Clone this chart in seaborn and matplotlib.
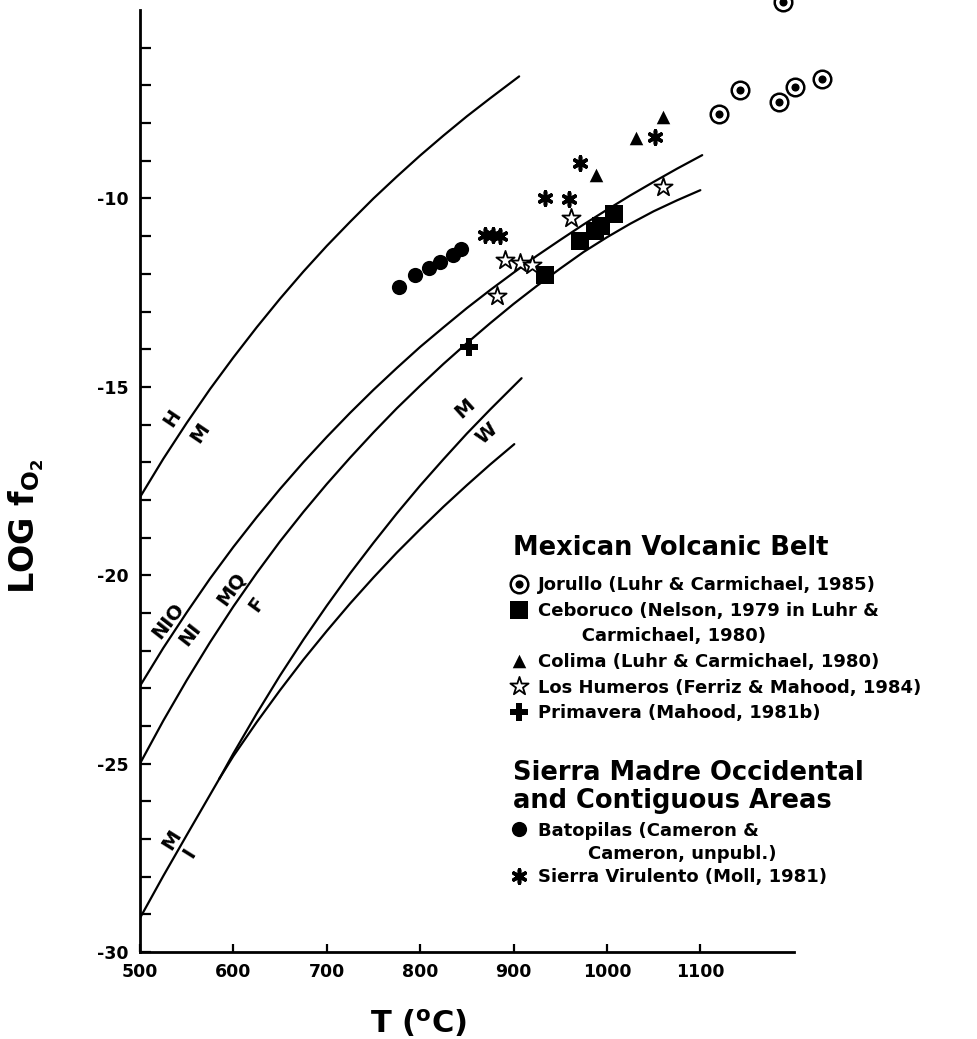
import matplotlib
matplotlib.use("Agg")
import matplotlib.pyplot as plt
import seaborn as sns
from matplotlib.lines import Line2D
from matplotlib.legend_handler import HandlerTuple
from matplotlib.ticker import FixedLocator

# ---- oxygen buffer curves: temperature (deg C) and log fO2 ----
hm_t = [500, 525, 550, 575, 600, 625, 650, 675, 700, 725, 750, 775, 800,
        825, 850, 875, 906]
hm_logfo2 = [-17.93, -16.91, -15.96, -15.06, -14.22, -13.42, -12.66, -11.94,
             -11.26, -10.62, -10.00, -9.42, -8.86, -8.33, -7.82, -7.34, -6.76]

nno_t = [500, 525, 550, 575, 600, 625, 650, 675, 700, 725, 750, 775, 800,
         825, 850, 875, 900, 925, 950, 975, 1000, 1025, 1050, 1075, 1102]
nno_logfo2 = [-22.94, -21.93, -20.99, -20.09, -19.25, -18.46, -17.71, -17.00,
              -16.33, -15.69, -15.08, -14.50, -13.94, -13.42, -12.91, -12.43,
              -11.97, -11.52, -11.10, -10.69, -10.30, -9.92, -9.56, -9.21,
              -8.85]

fmq_t = [500, 525, 550, 575, 600, 625, 650, 675, 700, 725, 750, 775, 800,
         825, 850, 875, 900, 925, 950, 975, 1000, 1025, 1050, 1075, 1100]
fmq_logfo2 = [-25.00, -23.86, -22.79, -21.78, -20.83, -19.94, -19.10, -18.32,
              -17.58, -16.88, -16.21, -15.57, -14.97, -14.39, -13.84, -13.31,
              -12.80, -12.32, -11.86, -11.42, -11.03, -10.67, -10.34, -10.05,
              -9.78]

mi_t = [500, 525, 550, 585]
mi_logfo2 = [-29.10, -27.98, -26.90, -25.40]

mw_t = [585, 600, 625, 650, 675, 700, 725, 750, 775, 800, 825, 850, 875, 908.6]
mw_logfo2 = [-25.40, -24.73, -23.67, -22.66, -21.71, -20.81, -19.95, -19.14,
             -18.36, -17.62, -16.92, -16.24, -15.60, -14.77]

wi_t = [585, 600, 625, 650, 675, 700, 725, 750, 775, 800, 825, 850, 875, 900.8]
wi_logfo2 = [-25.40, -24.80, -23.90, -23.05, -22.24, -21.48, -20.75, -20.06,
             -19.40, -18.78, -18.18, -17.61, -17.06, -16.52]

# ---- Mexican Volcanic Belt ----
jorullo_t = [1120, 1142, 1184, 1189, 1201, 1230]
jorullo_logfo2 = [-7.76, -7.12, -7.45, -4.79, -7.03, -6.84]

ceboruco_t = [934, 971, 987, 994, 1008]
ceboruco_logfo2 = [-12.02, -11.14, -10.87, -10.73, -10.40]

colima_t = [988, 1031, 1060]
colima_logfo2 = [-9.38, -8.39, -7.83]

humeros_t = [882, 891, 907, 920, 961, 1060]
humeros_logfo2 = [-12.60, -11.62, -11.70, -11.77, -10.51, -9.69]

primavera_t = [852]
primavera_logfo2 = [-13.94]

# ---- Sierra Madre Occidental and contiguous areas ----
batopilas_t = [777, 795, 810, 821, 835, 844]
batopilas_logfo2 = [-12.35, -12.04, -11.84, -11.68, -11.51, -11.35]

virulento_t = [869, 878, 885, 934, 959, 971, 1051]
virulento_logfo2 = [-10.96, -10.98, -11.0, -9.98, -10.02, -9.07, -8.36]

x_ticks = [500, 600, 700, 800, 900, 1000, 1100]
y_ticks = [-30, -25, -20, -15, -10]

# ---- style ----
sns.set_theme(style="ticks")
plt.rcParams["font.family"] = ["DejaVu Sans"]
plt.rcParams["font.weight"] = "bold"
plt.rcParams["axes.unicode_minus"] = False
for key in ("text.color", "axes.labelcolor", "xtick.color", "ytick.color",
            "axes.edgecolor"):
    plt.rcParams[key] = "black"

fig = plt.figure(figsize=(9.78, 10.39), dpi=100)
fig.patch.set_facecolor("white")
ax = fig.add_axes([0.1431, 0.0837, 0.6685, 0.9066])
ax.set_facecolor("white")

curve_kw = dict(color="black", linewidth=1.6, sort=False, estimator=None, ax=ax)
for t, f in [(hm_t, hm_logfo2), (nno_t, nno_logfo2), (fmq_t, fmq_logfo2),
             (mi_t, mi_logfo2), (mw_t, mw_logfo2), (wi_t, wi_logfo2)]:
    sns.lineplot(x=t, y=f, **curve_kw)

# buffer labels written along the curves
curve_labels = [
    ("H", 535, -15.83, 56), ("M", 564, -16.22, 56),
    ("NIO", 530, -21.22, 52), ("NI", 553.5, -21.57, 52),
    ("MQ", 598, -20.37, 54), ("F", 625, -20.77, 54),
    ("M", 848, -15.57, 42), ("W", 871.5, -16.25, 42),
    ("M", 534, -27.02, 58), ("I", 553.5, -27.38, 58),
]
for txt, x, y, rot in curve_labels:
    ax.text(x, y, txt, rotation=rot, rotation_mode="anchor", ha="center",
            va="center", fontsize=14, fontweight="bold", color="black")


def scatter(t, f, **kw):
    sns.scatterplot(x=t, y=f, ax=ax, clip_on=False, zorder=5, **kw)
    return ax.collections[-1]


h_jor_outer = scatter(jorullo_t, jorullo_logfo2, marker="o", s=160,
                      color="white", edgecolor="black", linewidth=1.8)
h_jor_inner = scatter(jorullo_t, jorullo_logfo2, marker="o", s=34,
                      color="black", edgecolor="black", linewidth=0)
h_ceb = scatter(ceboruco_t, ceboruco_logfo2, marker="s", s=150,
                color="black", edgecolor="black", linewidth=0)
h_col = scatter(colima_t, colima_logfo2, marker="^", s=95,
                color="black", edgecolor="black", linewidth=0)
h_hum = scatter(humeros_t, humeros_logfo2, marker="*", s=190,
                color="white", edgecolor="black", linewidth=1.3)
h_pri = scatter(primavera_t, primavera_logfo2, marker="P", s=170,
                color="black", edgecolor="black", linewidth=0)
h_bat = scatter(batopilas_t, batopilas_logfo2, marker="o", s=120,
                color="black", edgecolor="black", linewidth=0)
h_vir = scatter(virulento_t, virulento_logfo2, marker=(6, 2, 0), s=90,
                color="black", linewidth=2.6)

# ---- axes ----
ax.set_xlim(500, 1200)
ax.set_ylim(-30, -5)
sns.despine(ax=ax)
for side in ("left", "bottom"):
    ax.spines[side].set_linewidth(2)
    ax.spines[side].set_color("black")

ax.set_xticks(x_ticks)
ax.set_xticklabels([str(v) for v in x_ticks])
ax.set_yticks(y_ticks)
ax.set_yticklabels([str(v) for v in y_ticks])
ax.yaxis.set_minor_locator(FixedLocator([v for v in range(-29, -5) if v % 5]))
ax.tick_params(axis="y", which="both", direction="in", length=8, width=1.6,
               color="black", pad=8, labelsize=12.5, labelcolor="black")
ax.tick_params(axis="x", which="both", direction="in", length=6, width=1.6,
               color="black", pad=8, labelsize=12.5, labelcolor="black")
for lab in ax.get_xticklabels() + ax.get_yticklabels():
    lab.set_fontweight("bold")

ax.set_xlabel("")
ax.set_ylabel("")
fig.text(418 / 978, 1 - 1023 / 1039, r"T ($^{\mathbf{o}}$C)", ha="center",
         va="center", fontsize=22, fontweight="bold")
fig.text(26 / 978, 1 - 526 / 1039, r"LOG $\mathbf{f_{O_2}}$", ha="center",
         va="center", rotation=90, fontsize=24, fontweight="bold")

# ---- legends ----
blank = Line2D([], [], linestyle="none")
leg_kw = dict(loc="upper left", frameon=False, borderpad=0, borderaxespad=0,
              handlelength=0.66, handletextpad=0.72,
              alignment="left", scatterpoints=1, scatteryoffsets=[0.5],
              prop={"weight": "bold", "size": 13},
              title_fontproperties={"weight": "bold", "size": 18.5},
              bbox_transform=fig.transFigure,
              handler_map={tuple: HandlerTuple(ndivide=1)})

leg1 = ax.legend(
    handles=[(h_jor_outer, h_jor_inner), h_ceb, blank, h_col, h_hum, h_pri],
    labels=["Jorullo (Luhr & Carmichael, 1985)",
            "Ceboruco (Nelson, 1979 in Luhr &",
            "       Carmichael, 1980)",
            "Colima (Luhr & Carmichael, 1980)",
            "Los Humeros (Ferriz & Mahood, 1984)",
            "Primavera (Mahood, 1981b)"],
    title="Mexican Volcanic Belt", labelspacing=0.42,
    bbox_to_anchor=(513 / 978, 1 - 535 / 1039), **leg_kw)
leg1._legend_box.sep = 11.0
ax.add_artist(leg1)

leg2 = ax.legend(
    handles=[h_bat, blank, h_vir],
    labels=["Batopilas (Cameron &",
            "        Cameron, unpubl.)",
            "Sierra Virulento (Moll, 1981)"],
    title="Sierra Madre Occidental\nand Contiguous Areas", labelspacing=0.3,
    bbox_to_anchor=(513 / 978, 1 - 760 / 1039), **leg_kw)
leg2.get_title().set_linespacing(1.1)
leg2._legend_box.sep = 5.5

fig.savefig("out.png", dpi=100, facecolor="white")
